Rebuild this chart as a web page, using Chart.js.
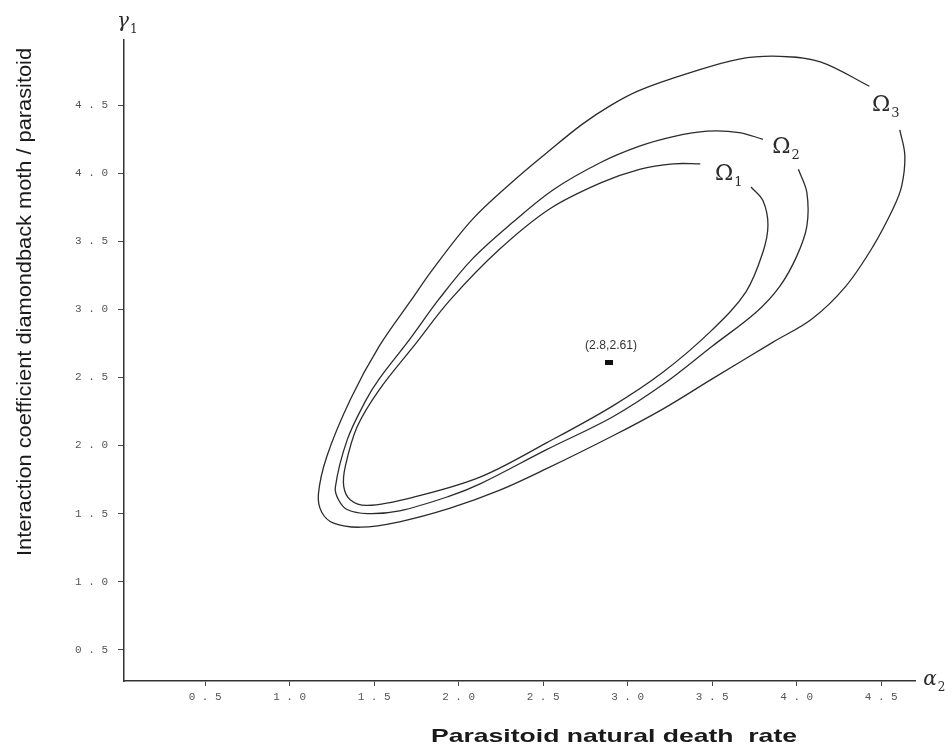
<!DOCTYPE html>
<html>
<head>
<meta charset="utf-8">
<script src="https://cdn.jsdelivr.net/npm/chart.js@4.4.0/dist/chart.umd.min.js"></script>
<style>
html, body { margin: 0; padding: 0; background: #fff; }
</style>
</head>
<body>
<canvas id="plot" width="952" height="753"></canvas>
<script>
// tick positions on both axes
var xTicks = [0.5, 1.0, 1.5, 2.0, 2.5, 3.0, 3.5, 4.0, 4.5];
var yTicks = [0.5, 1.0, 1.5, 2.0, 2.5, 3.0, 3.5, 4.0, 4.5];

// region boundaries (each starts just after its label gap)
var omega3X = [4.43, 4.14, 3.90, 3.66, 3.37, 3.07, 2.90, 2.73, 2.52, 2.32, 2.08, 1.85, 1.72, 1.53, 1.36, 1.22, 1.17, 1.19, 1.26, 1.42, 1.65, 1.95, 2.24, 2.52, 2.91, 3.21, 3.50, 3.86, 4.09, 4.29, 4.45, 4.57, 4.62, 4.64, 4.61];
var omega3Y = [4.64, 4.82, 4.86, 4.84, 4.74, 4.61, 4.50, 4.36, 4.15, 3.94, 3.66, 3.30, 3.07, 2.73, 2.34, 1.92, 1.64, 1.51, 1.43, 1.40, 1.44, 1.54, 1.67, 1.83, 2.07, 2.27, 2.49, 2.76, 2.93, 3.17, 3.46, 3.74, 3.90, 4.13, 4.32];

var omega2X = [3.80, 3.66, 3.47, 3.27, 3.07, 2.84, 2.56, 2.32, 2.08, 1.88, 1.71, 1.53, 1.45, 1.34, 1.27, 1.29, 1.34, 1.46, 1.65, 1.95, 2.13, 2.52, 2.91, 3.21, 3.50, 3.76, 3.90, 4.00, 4.06, 4.06, 4.01];
var omega2Y = [4.25, 4.30, 4.31, 4.27, 4.20, 4.08, 3.88, 3.64, 3.37, 3.07, 2.78, 2.49, 2.33, 2.04, 1.69, 1.60, 1.53, 1.50, 1.52, 1.63, 1.72, 1.97, 2.21, 2.45, 2.73, 2.98, 3.17, 3.39, 3.61, 3.86, 4.03];

var omega1X = [3.43, 3.27, 3.07, 2.84, 2.54, 2.24, 1.95, 1.74, 1.53, 1.40, 1.33, 1.32, 1.36, 1.46, 1.73, 2.13, 2.52, 2.91, 3.21, 3.50, 3.70, 3.80, 3.83, 3.80, 3.73];
var omega1Y = [4.07, 4.07, 4.03, 3.93, 3.74, 3.44, 3.07, 2.74, 2.41, 2.14, 1.85, 1.70, 1.60, 1.56, 1.62, 1.77, 2.02, 2.29, 2.54, 2.85, 3.13, 3.42, 3.62, 3.80, 3.90];

// region labels
var labelText = ['3', '2', '1'];
var labelX = [4.50, 3.91, 3.57];
var labelY = [4.50, 4.19, 3.99];

// marked equilibrium
var pointX = [2.89];
var pointY = [2.61];
var pointText = ['(2.8,2.61)'];

var INK = '#2b2b2b';

function toXY(xs, ys) {
    return xs.map(function(x, i) { return { x: x, y: ys[i] }; });
}

function curve(xs, ys) {
    return {
        data: toXY(xs, ys),
        showLine: true,
        borderColor: INK,
        borderWidth: 1.3,
        tension: 0.35,
        pointRadius: 0,
        fill: false
    };
}

// small filled bar used as the point marker
var marker = document.createElement('canvas');
marker.width = 8; marker.height = 5;
(function() {
    var m = marker.getContext('2d');
    m.fillStyle = '#111';
    m.fillRect(0, 0, 8, 5);
})();

function fitText(c, text, cx, cy, w, font, rot) {
    c.save();
    c.font = font;
    c.translate(cx, cy);
    if (rot) c.rotate(rot);
    var m = c.measureText(text).width;
    c.scale(w / m, 1);
    c.textAlign = 'center';
    c.textBaseline = 'middle';
    c.fillText(text, 0, 0);
    c.restore();
}

function symbol(c, main, sub, x, y, size, italic) {
    c.save();
    c.fillStyle = INK;
    c.textAlign = 'center';
    c.textBaseline = 'middle';
    c.font = (italic ? 'italic ' : '') + size + 'px "DejaVu Serif"';
    c.fillText(main, x, y);
    var w = c.measureText(main).width;
    c.font = Math.round(size * 0.58) + 'px "DejaVu Serif"';
    c.textAlign = 'left';
    c.fillText(sub, x + w / 2 + 1, y + size * 0.38);
    c.restore();
}

var annotate = {
    id: 'annotate',
    afterDatasetsDraw: function(chart) {
        var c = chart.ctx, sx = chart.scales.x, sy = chart.scales.y;
        c.save();
        // region names
        labelText.forEach(function(t, i) {
            symbol(c, '\u03A9', t, sx.getPixelForValue(labelX[i]), sy.getPixelForValue(labelY[i]), 22, false);
        });
        // point label
        c.fillStyle = '#333';
        pointText.forEach(function(t, i) {
            fitText(c, t, sx.getPixelForValue(pointX[i]) + 2, sy.getPixelForValue(pointY[i]) - 17, 52, '12px "Liberation Sans"');
        });
        // axis symbols
        symbol(c, '\u03B3', '1', 123, 22, 20, true);
        symbol(c, '\u03B1', '2', 930, 680, 20, true);
        // axis titles
        c.fillStyle = '#1a1a1a';
        fitText(c, 'Interaction coefficient diamondback moth / parasitoid', 25, 302, 508, '20px "Liberation Sans"', -Math.PI / 2);
        fitText(c, 'Parasitoid natural death  rate', 614, 737, 366, 'bold 19px "Liberation Sans"');
        c.restore();
    }
};

var tickFont = { family: 'Liberation Mono', size: 11 };
function spaced(v) { return Number(v).toFixed(1).split('').join(' '); }

var chart = new Chart(document.getElementById('plot').getContext('2d'), {
    type: 'scatter',
    data: {
        datasets: [
            curve(omega3X, omega3Y),
            curve(omega2X, omega2Y),
            curve(omega1X, omega1Y),
            {
                data: toXY(pointX, pointY),
                pointStyle: marker,
                pointRadius: 4,
                showLine: false
            }
        ]
    },
    options: {
        responsive: false,
        animation: false,
        events: [],
        layout: { padding: { top: 40, right: 37, left: 0, bottom: 0 } },
        plugins: { legend: { display: false }, tooltip: { enabled: false } },
        scales: {
            x: {
                type: 'linear', min: 0.02, max: 4.7,
                afterBuildTicks: function(s) { s.ticks = xTicks.map(function(v) { return { value: v }; }); },
                afterFit: function(s) { s.height = 72; },
                grid: { drawOnChartArea: false, drawTicks: true, tickLength: 5, color: '#444', lineWidth: 1 },
                border: { display: true, color: '#333', width: 1.5 },
                ticks: { autoSkip: false, maxRotation: 0, padding: 4, color: '#555', font: tickFont, callback: spaced }
            },
            y: {
                type: 'linear', min: 0.27, max: 4.98,
                afterBuildTicks: function(s) { s.ticks = yTicks.map(function(v) { return { value: v }; }); },
                afterFit: function(s) { s.width = 124; },
                grid: { drawOnChartArea: false, drawTicks: true, tickLength: 6, color: '#444', lineWidth: 1 },
                border: { display: true, color: '#333', width: 1.5 },
                ticks: { autoSkip: false, padding: 10, color: '#555', font: tickFont, callback: spaced }
            }
        }
    },
    plugins: [annotate]
});
</script>
</body>
</html>
